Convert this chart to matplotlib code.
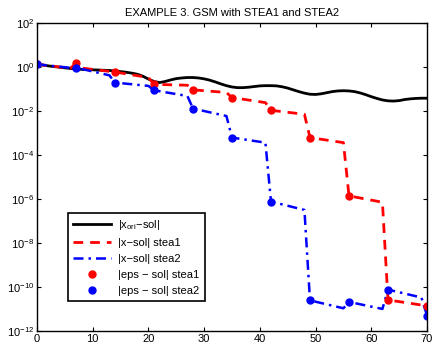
import numpy as np
import matplotlib
matplotlib.use('Agg')
import matplotlib.pyplot as plt

plt.rcParams['font.family'] = ['Liberation Sans', 'DejaVu Sans']
plt.rcParams['mathtext.fontset'] = 'custom'
plt.rcParams['mathtext.rm'] = 'Liberation Sans'
plt.rcParams['mathtext.it'] = 'Liberation Sans'

# |x_ori - sol|, log10 values at each iteration 0..70
ori_it = list(range(71))
ori_log = [0.12, 0.09, 0.05, 0.02, -0.01, -0.04, -0.07, -0.09, -0.11, -0.12,
           -0.13, -0.14, -0.15, -0.16, -0.18, -0.21, -0.24, -0.28, -0.33, -0.42,
           -0.55, -0.66, -0.71, -0.66, -0.59, -0.53, -0.50, -0.48, -0.48, -0.50,
           -0.54, -0.60, -0.68, -0.77, -0.85, -0.91, -0.94, -0.94, -0.92, -0.89,
           -0.86, -0.85, -0.85, -0.86, -0.90, -0.96, -1.04, -1.12, -1.19, -1.24,
           -1.25, -1.22, -1.17, -1.12, -1.09, -1.08, -1.09, -1.12, -1.18, -1.26,
           -1.35, -1.43, -1.50, -1.54, -1.55, -1.53, -1.48, -1.45, -1.43, -1.42,
           -1.42]

# |x - sol| stea1 (log10, vertices)
s1_it = [0, 6, 7, 8, 13, 14, 20, 21, 27, 28, 34, 35, 41, 42, 48, 49, 55, 56, 62, 63, 70]
s1_log = [0.12, -0.06, 0.17, -0.05, -0.2, -0.23, -0.48, -0.79, -0.83, -1.04, -1.16, -1.39,
          -1.62, -1.97, -2.15, -3.21, -3.44, -5.86, -6.15, -10.59, -10.86]

# |x - sol| stea2 (log10, vertices)
s2_it = [0, 6, 7, 13, 14, 20, 21, 27, 28, 34, 35, 41, 42, 48, 49, 55, 56, 62, 63, 69, 70]
s2_log = [0.12, -0.04, -0.03, -0.38, -0.71, -0.86, -1.06, -1.32, -1.89, -2.23, -3.21, -3.44,
          -6.12, -6.50, -10.61, -10.97, -10.68, -11.0, -10.12, -10.48, -11.3]

# |eps - sol| markers every 7 iterations
eps_it = [0, 7, 14, 21, 28, 35, 42, 49, 56, 63, 70]
eps1_log = [0.12, 0.17, -0.23, -0.79, -1.04, -1.39, -1.97, -3.21, -5.86, -10.59, -10.86]
eps2_log = [0.12, -0.03, -0.71, -1.06, -1.89, -3.21, -6.12, -10.61, -10.68, -10.12, -11.3]

fig = plt.figure(figsize=(4.35, 3.48), dpi=100)
ax = fig.add_axes([0.085, 0.049, 0.8966, 0.885])

ax.semilogy(ori_it, 10.0 ** np.array(ori_log), '-', color='k', lw=2, label='|x$_{\\rm ori}$\u2212sol|')
ax.semilogy(s1_it, 10.0 ** np.array(s1_log), '--', color='r', lw=2, dashes=(3.5, 2.5),
            label='|x\u2212sol| stea1')
ax.semilogy(s2_it, 10.0 ** np.array(s2_log), '-.', color='b', lw=1.8, dashes=(4, 2, 1, 2),
            label='|x\u2212sol| stea2')
ax.semilogy(eps_it, 10.0 ** np.array(eps1_log), 'o', color='r', ms=5, label='|eps \u2212 sol| stea1')
ax.semilogy(eps_it, 10.0 ** np.array(eps2_log), 'o', color='b', ms=5, label='|eps \u2212 sol| stea2')

ax.set_xlim(0, 70)
ax.set_ylim(1e-12, 1e2)
ax.set_xticks(range(0, 71, 10))
ax.set_yticks([10.0 ** k for k in range(-12, 3, 2)])
ax.minorticks_off()
ax.tick_params(direction='in', top=True, right=True, labelsize=8, length=3, width=0.8, pad=2)
for s in ax.spines.values():
    s.set_linewidth(1)

ax.set_title('EXAMPLE 3. GSM with STEA1 and STEA2', fontsize=8, pad=5)

leg = ax.legend(loc='lower left', bbox_to_anchor=(0.079, 0.097), borderaxespad=0,
                fontsize=8, fancybox=False, framealpha=1, edgecolor='k',
                handlelength=3.4, labelspacing=0.55, borderpad=0.45, handletextpad=0.7)
leg.get_frame().set_linewidth(1.2)

fig.savefig('out.png', dpi=100)
